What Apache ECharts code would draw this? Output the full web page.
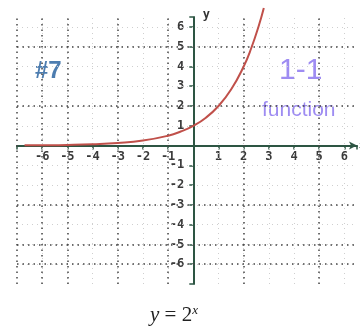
<!DOCTYPE html>
<html>
<head>
<meta charset="utf-8">
<script src="https://cdn.jsdelivr.net/npm/echarts@6/dist/echarts.min.js"></script>
<style>
  html, body { margin: 0; padding: 0; background: #fff; }
  #chart { width: 360px; height: 331px; }
</style>
</head>
<body>
<div id="chart"></div>
<script>
// Points on y = 2^x
const curveX = [-6.7, -6, -5, -4, -3, -2, -1, -0.5, 0, 0.5, 1, 1.5, 2, 2.3, 2.6, 2.8];
const curveY = [0.01, 0.016, 0.031, 0.063, 0.125, 0.25, 0.5, 0.71, 1, 1.41, 2, 2.83, 4, 4.92, 6.06, 6.96];

// Integer ticks shown on both axes
const tickValues = [-6, -5, -4, -3, -2, -1, 1, 2, 3, 4, 5, 6];
// Heavier dotted lines of the printed graph paper
const heavyX = [-7, -6, -5, -3, -1, 2, 5];
const heavyY = [5, 2, -3, -5, -6];
// Light dotted lines at every unit
const lightLines = [-6, -5, -4, -3, -2, -1, 1, 2, 3, 4, 5, 6];

const axisColor = '#2d5543';
const labelFont = { fontFamily: 'DejaVu Sans Mono', fontWeight: 'bold', fontSize: 12, color: '#3a3a3a' };

const chart = echarts.init(document.getElementById('chart'));

const lightStyle = { color: '#cfcfcf', type: [1, 4], width: 1 };
const heavyStyle = { color: '#454545', type: [1.5, 4], width: 1.5 };

const gridLines = []
  .concat(lightLines.map(v => ({ xAxis: v, lineStyle: lightStyle })))
  .concat(lightLines.map(v => ({ yAxis: v, lineStyle: lightStyle })))
  .concat(heavyX.map(v => ({ xAxis: v, lineStyle: heavyStyle })))
  .concat(heavyY.map(v => ({ yAxis: v, lineStyle: heavyStyle })));

chart.setOption({
  animation: false,
  backgroundColor: '#ffffff',
  grid: { left: 17, right: 3, top: 17, height: 267, containLabel: false, outerBoundsMode: 'none' },
  xAxis: {
    type: 'value', min: -7, max: 6.5, interval: 1, position: 'bottom',
    axisLine: { onZero: false, symbol: ['none', 'arrow'], symbolSize: [6, 8], lineStyle: { color: axisColor, width: 2 } },
    axisTick: { show: true, length: 4, lineStyle: { color: axisColor, width: 1.5 } },
    axisLabel: Object.assign({
      margin: 5,
      formatter: v => tickValues.includes(v) ? String(v) : ''
    }, labelFont),
    splitLine: { show: false },
    name: 'x', nameGap: 2,
    nameTextStyle: { fontFamily: 'DejaVu Serif', fontStyle: 'italic', fontSize: 10, color: '#333', padding: [0, 0, 14, 0] }
  },
  yAxis: {
    type: 'value', min: -7, max: 6.5, interval: 1, position: 'left',
    axisLine: { onZero: false, lineStyle: { color: axisColor, width: 2 } },
    axisTick: { show: true, length: 4, lineStyle: { color: axisColor, width: 1.5 } },
    axisLabel: Object.assign({
      margin: 9,
      formatter: v => tickValues.includes(v) ? String(v) : ''
    }, labelFont),
    splitLine: { show: false },
    name: 'y', nameGap: -4,
    nameTextStyle: { fontFamily: 'DejaVu Sans Mono', fontWeight: 'bold', fontSize: 12, color: '#333', padding: [0, 0, 0, 26] }
  },
  series: [
    {
      type: 'line', data: [], silent: true,
      markLine: { silent: true, symbol: 'none', label: { show: false }, data: gridLines }
    },
    {
      type: 'line', smooth: true, showSymbol: false, silent: true, clip: false,
      data: curveX.map((x, i) => [x, curveY[i]]),
      lineStyle: { color: '#c0504a', width: 2 },
      z: 5
    }
  ],
  graphic: [
    { type: 'text', left: 35, top: 59, style: { text: '#7', fontFamily: 'Liberation Sans', fontWeight: 'bold', fontSize: 24, fill: '#4d7db0' } },
    { type: 'text', left: 279, top: 56, style: { text: '1-1', fontFamily: 'Liberation Sans', fontSize: 30, fill: '#9e8cf2' } },
    { type: 'text', left: 262, top: 100, style: { text: 'function', fontFamily: 'Liberation Sans', fontSize: 21, fill: '#9e8cf2' } },
    {
      type: 'text', left: 150, top: 304,
      style: {
        text: '{i|y} = 2{s|x}',
        fontFamily: 'Liberation Serif', fontSize: 21, fill: '#222',
        rich: {
          i: { fontFamily: 'Liberation Serif', fontStyle: 'italic', fontSize: 21, fill: '#222' },
          s: { fontFamily: 'Liberation Serif', fontStyle: 'italic', fontSize: 13, fill: '#222', verticalAlign: 'top', padding: [0, 0, 10, 0] }
        }
      }
    }
  ]
});

// Move both axes onto the origin, measuring the distance through the axis scales
const origin = chart.convertToPixel({ gridIndex: 0 }, [0, 0]);
const gridRect = chart.getModel().getComponent('grid', 0).coordinateSystem.getRect();
chart.setOption({
  xAxis: { offset: -((gridRect.y + gridRect.height) - origin[1]) },
  yAxis: { offset: -(origin[0] - gridRect.x) }
});
</script>
</body>
</html>
